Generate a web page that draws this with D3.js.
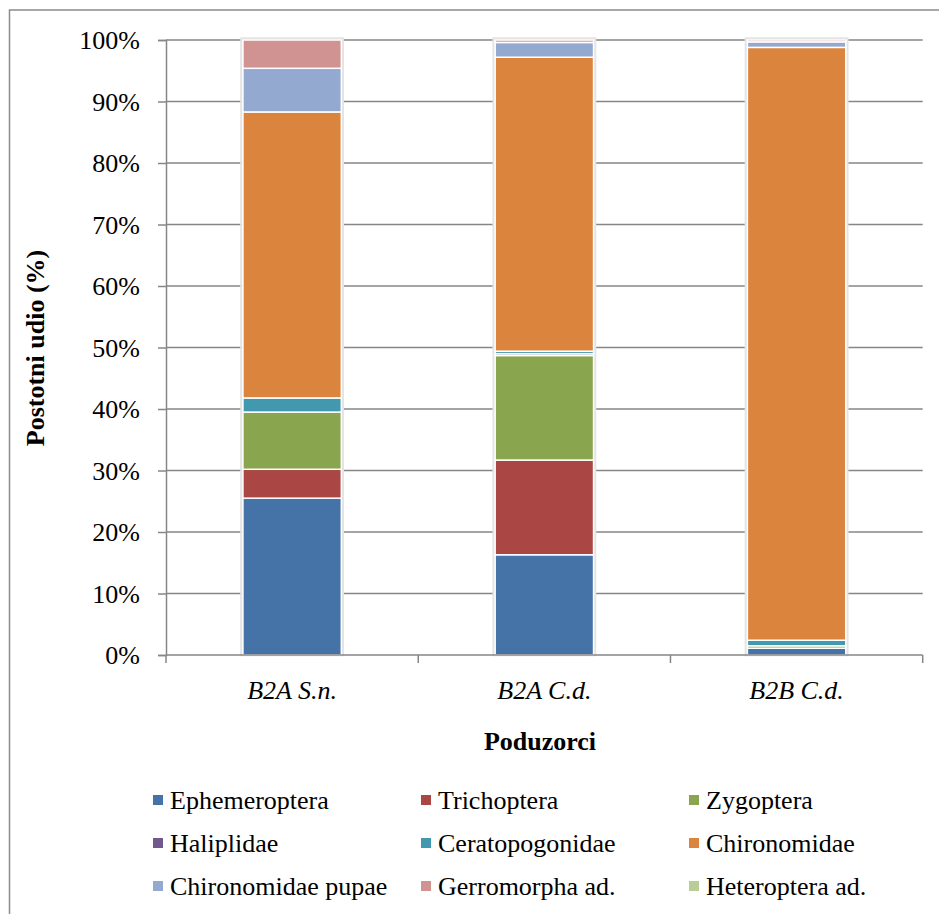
<!DOCTYPE html>
<html>
<head>
<meta charset="utf-8">
<script src="https://cdn.jsdelivr.net/npm/d3@7/dist/d3.min.js"></script>
<style>
body{margin:0;background:#fff;}
svg{display:block;font-family:"Liberation Serif","Times New Roman",serif;}
</style>
</head>
<body>
<svg id="chart" width="939" height="914"></svg>
<script>
const categories = ["B2A S.n.", "B2A C.d.", "B2B C.d."];
const seriesNames = ["Ephemeroptera","Trichoptera","Zygoptera","Haliplidae","Ceratopogonidae","Chironomidae","Chironomidae pupae","Gerromorpha ad.","Heteroptera ad."];
const seriesColors = ["#4572A7","#AA4643","#89A54E","#71588F","#4198AF","#DB843D","#93A9CF","#D19392","#B9CD96"];
const ephemeroptera = [25.5, 16.3, 1.1];
const trichoptera = [4.7, 15.4, 0];
const zygoptera = [9.3, 17.0, 0.4];
const haliplidae = [0, 0.3, 0];
const ceratopogonidae = [2.3, 0.4, 0.9];
const chironomidae = [46.5, 47.8, 96.4];
const chironomidaePupae = [7.1, 2.4, 0.9];
const gerromorpha = [4.6, 0.4, 0.3];
const heteroptera = [0, 0, 0];
const yTicks = [0,10,20,30,40,50,60,70,80,90,100];

const seriesValues = [ephemeroptera,trichoptera,zygoptera,haliplidae,ceratopogonidae,chironomidae,chironomidaePupae,gerromorpha,heteroptera];
const table = categories.map((c,i)=>{const o={cat:c}; seriesNames.forEach((s,j)=>o[s]=seriesValues[j][i]); return o;});
const stacked = d3.stack().keys(seriesNames)(table);

const FONT = "Liberation Serif";
const FS = 26;
const svg = d3.select("#chart");
const m = {left:166, right:922.7, top:40, bottom:655};
const x = d3.scaleBand().domain(categories).range([m.left,m.right]).paddingInner(0.61).paddingOuter(0.305);
const y = d3.scaleLinear().domain([0,100]).range([m.bottom,m.top]);

// outer border
svg.append("rect").attr("x",9.5).attr("y",10).attr("width",960).attr("height",960)
  .attr("fill","none").attr("stroke","#8c8c8c").attr("stroke-width",1.5);

// gridlines
svg.append("g").selectAll("line").data(yTicks.filter(t=>t>0)).join("line")
  .attr("x1",m.left).attr("x2",m.right).attr("y1",d=>y(d)).attr("y2",d=>y(d))
  .attr("stroke","#868686").attr("stroke-width",1.5);

// y axis
const yAxis = svg.append("g").attr("transform",`translate(${m.left},0)`)
  .call(d3.axisLeft(y).tickValues(yTicks).tickFormat(d=>d+"%").tickSize(8).tickPadding(18));
yAxis.attr("font-family",FONT).attr("font-size",FS);
yAxis.select(".domain").attr("stroke","#868686").attr("stroke-width",1.5);
yAxis.selectAll(".tick line").attr("stroke","#868686").attr("stroke-width",1.5);
yAxis.selectAll("text").attr("font-size",FS).attr("fill","#000").attr("font-family",FONT).attr("dy","0.34em");

// shadow behind full bar
svg.append("g").selectAll("rect").data(table).join("rect")
  .attr("x",d=>x(d.cat)-1.5).attr("width",x.bandwidth()+3)
  .attr("y",y(100)-1.5).attr("height",y(0)-y(100)+1.5)
  .attr("fill","none").attr("stroke","#e4e4e4").attr("stroke-width",2.5);
// bars
const groups = svg.append("g").selectAll("g").data(stacked).join("g").attr("fill",(d,i)=>seriesColors[i]);
groups.selectAll("rect").data(d=>d.filter(p=>p[1]-p[0]>0)).join("rect")
  .attr("x",d=>x(d.data.cat)).attr("width",x.bandwidth())
  .attr("y",d=>y(d[1])).attr("height",d=>y(d[0])-y(d[1]))
  .attr("stroke","#fff").attr("stroke-width",1.5);

// x axis
const xAxisG = svg.append("g").attr("transform",`translate(0,${m.bottom})`);
xAxisG.append("line").attr("x1",m.left).attr("x2",m.right).attr("y1",0).attr("y2",0)
  .attr("stroke","#868686").attr("stroke-width",1.5);
const bounds = d3.range(categories.length+1).map(i=>m.left + i*x.step());
xAxisG.selectAll("line.tk").data(bounds).join("line").attr("class","tk")
  .attr("x1",d=>d).attr("x2",d=>d).attr("y1",0).attr("y2",8)
  .attr("stroke","#868686").attr("stroke-width",1.5);
xAxisG.selectAll("text").data(categories).join("text")
  .attr("x",d=>x(d)+x.bandwidth()/2).attr("y",44)
  .attr("text-anchor","middle").attr("font-size",FS).attr("font-style","italic").text(d=>d);

// axis titles
svg.append("text").attr("x",540).attr("y",750).attr("text-anchor","middle")
  .attr("font-size",FS).attr("font-weight","bold").text("Poduzorci");
svg.append("text").attr("transform","translate(44,348) rotate(-90)").attr("text-anchor","middle")
  .attr("font-size",FS).attr("font-weight","bold").text("Postotni udio (%)");

// legend
const colX = [153, 421, 689];
const rowY = [800, 843, 886];
const leg = svg.append("g").selectAll("g").data(seriesNames).join("g")
  .attr("transform",(d,i)=>`translate(${colX[i%3]},${rowY[Math.floor(i/3)]})`);
leg.append("rect").attr("x",0).attr("y",-5).attr("width",10).attr("height",10).attr("fill",(d,i)=>seriesColors[i]);
leg.append("text").attr("x",17).attr("y",0).attr("dy","0.35em").attr("font-size",FS).text(d=>d);
</script>
</body>
</html>
